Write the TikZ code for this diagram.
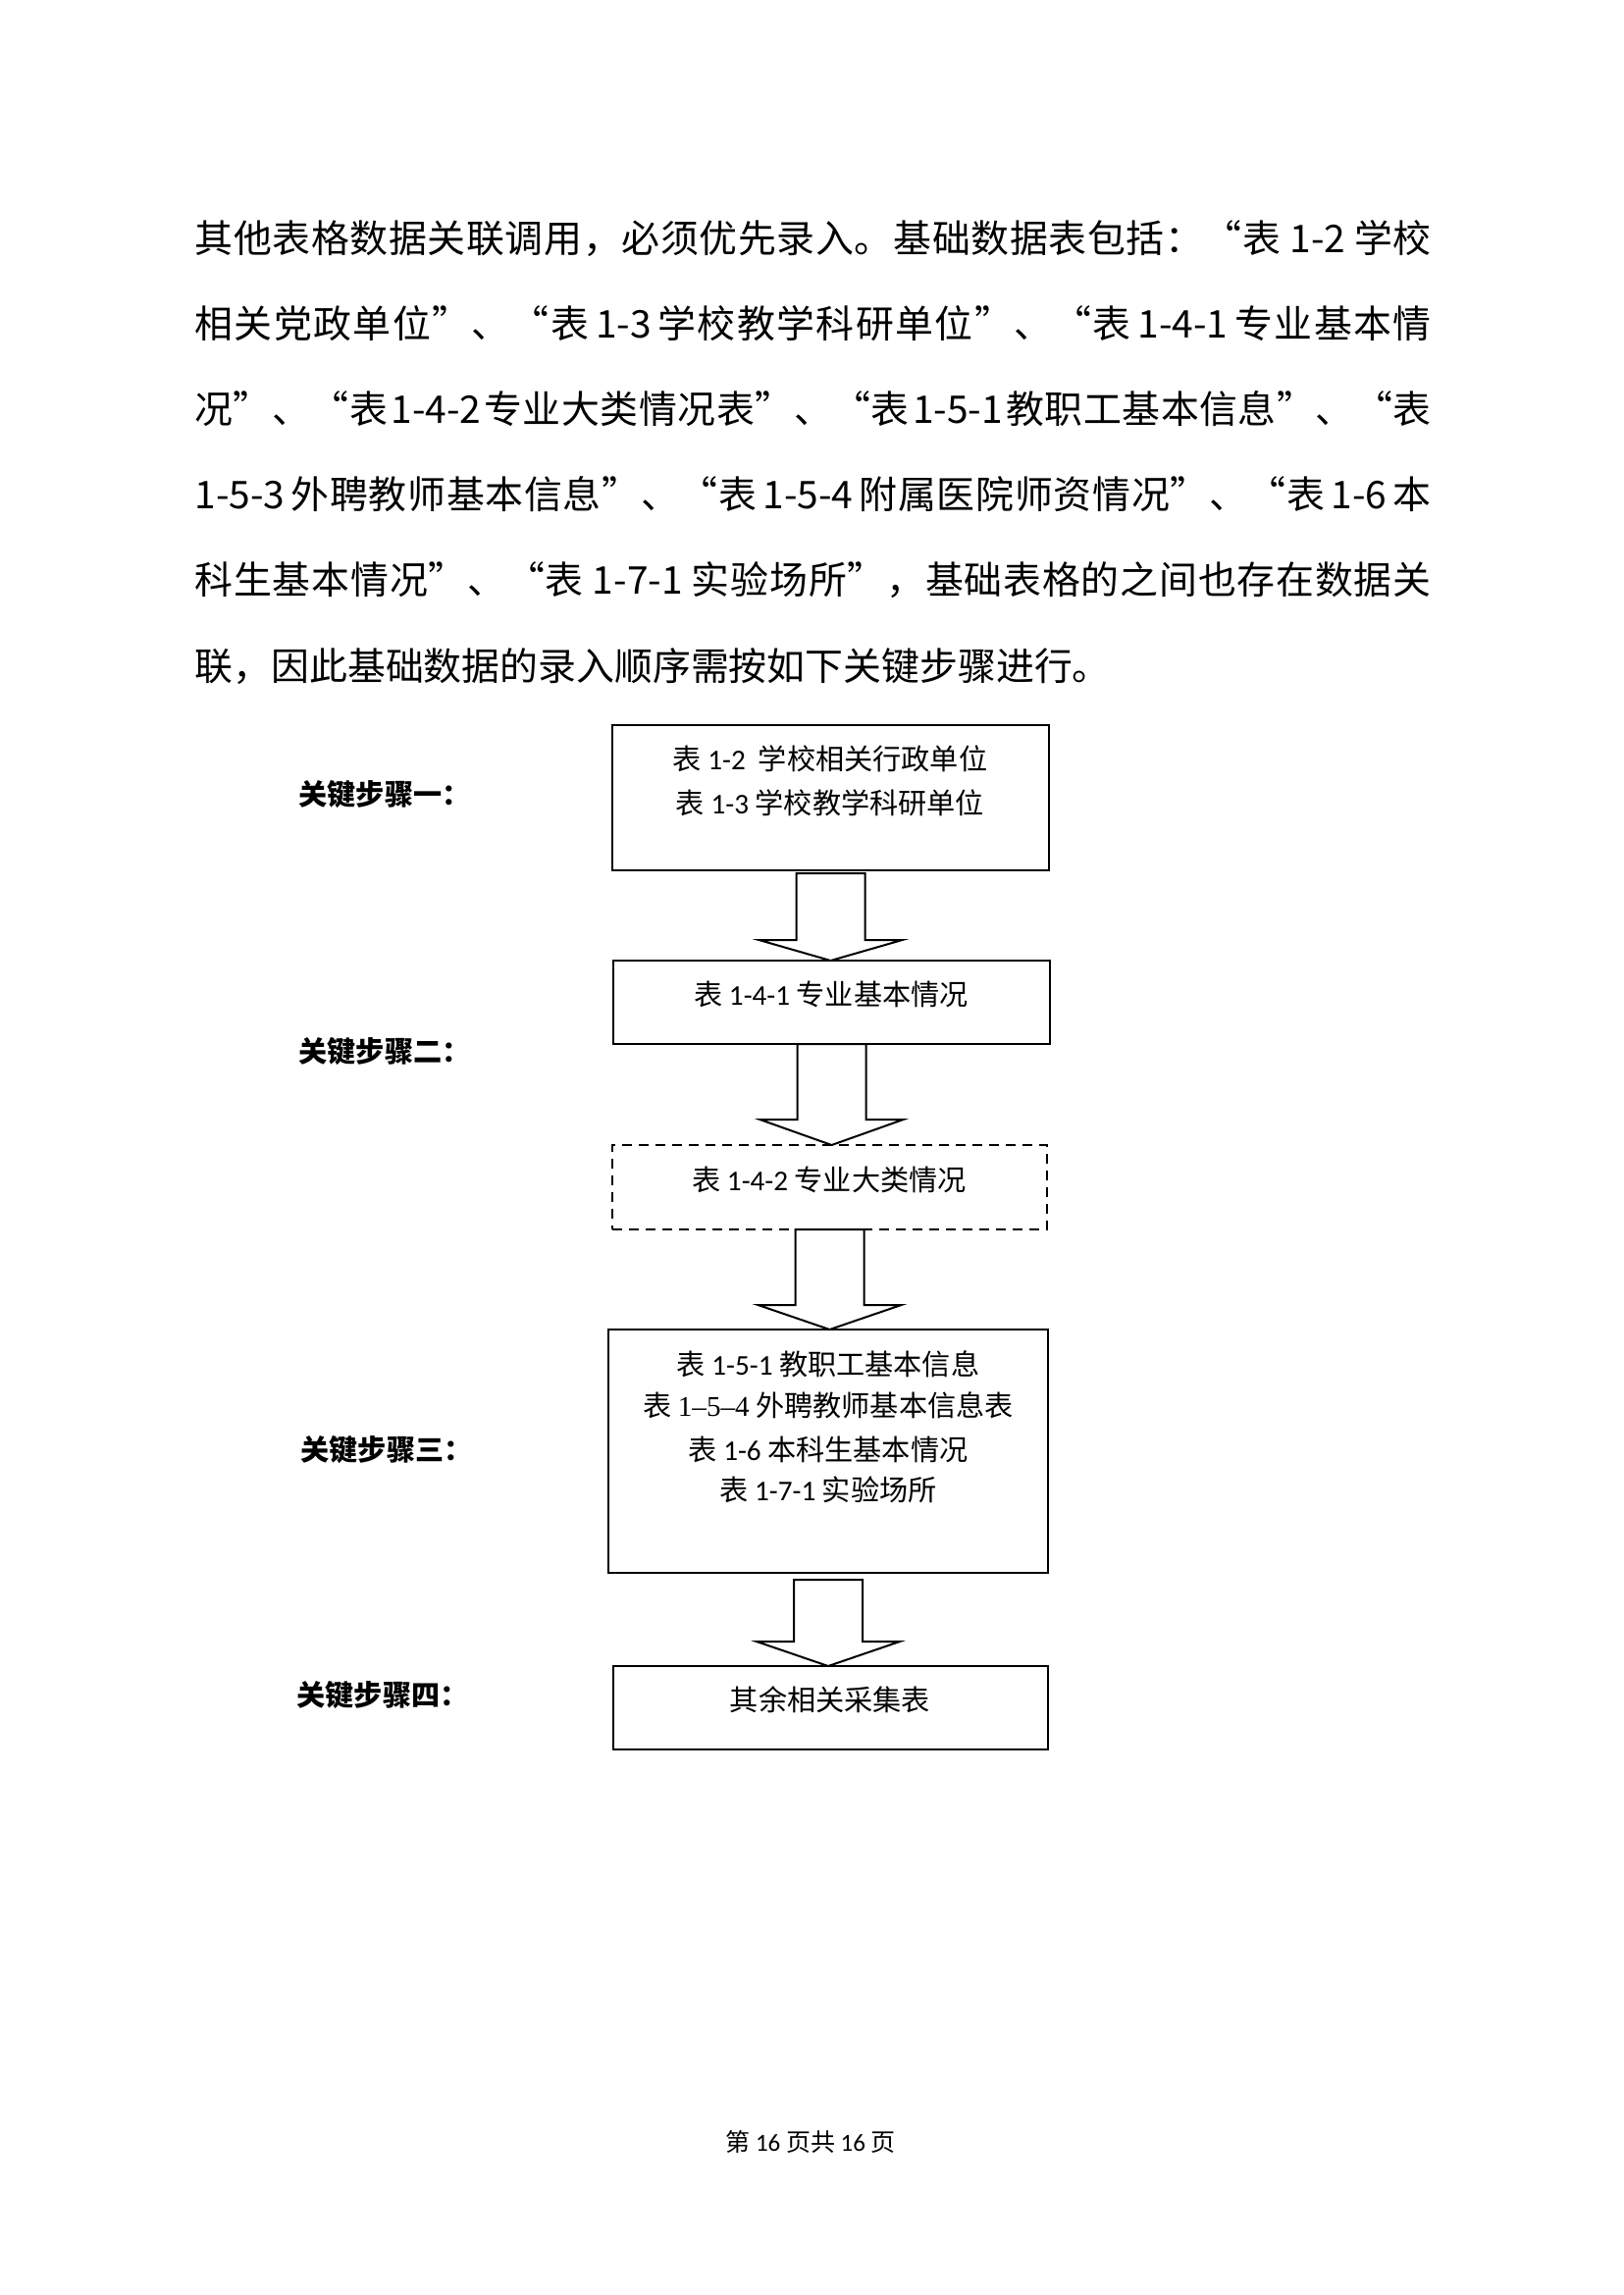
\documentclass[tikz,border=0pt]{standalone}
\usepackage{fontspec}
\setmainfont{Noto Sans CJK SC}
\newfontfamily\latf{Carlito}
\newfontfamily\tmsf{Liberation Serif}
\usetikzlibrary{calc}
\newdimen\px \px=0.36pt
\def\spreadend{\spreadend}
\def\spreadendtest{\spreadend}
\newcommand\spreadline[2]{\makebox[#1][l]{\spreadfirst#2\spreadend}}
\def\spreadfirst#1{#1\spreadrest}
\def\spreadrest#1{\def\spreadtmp{#1}\ifx\spreadtmp\spreadendtest\else\hfill#1\expandafter\spreadrest\fi}
\newcommand\blockarrow[4]{%
  \draw[blk] ($(#1.south)+(-35,#3)$) -- ($(#1.south |- #2.north)+(-35,-#4)$)
    -- ($(#1.south |- #2.north)+(-73,-#4)$) -- (#1.south |- #2.north)
    -- ($(#1.south |- #2.north)+(73,-#4)$) -- ($(#1.south |- #2.north)+(35,-#4)$)
    -- ($(#1.south)+(35,#3)$) -- cycle;}
\tikzset{
  box/.style={draw, line width=2\px, rectangle, anchor=north west, inner sep=0pt, outer sep=0pt},
  txt/.style={inner sep=0pt, font=\fontsize{10.5}{12}\selectfont},
  steplabel/.style={anchor=west, inner sep=0pt, font=\fontsize{10.5}{12}\selectfont\bfseries},
  blk/.style={draw, fill=white, line width=2\px, line join=miter},
  para/.style={anchor=west, inner sep=0pt, font=\fontsize{14}{16}\selectfont},
}
\begin{document}
\begin{tikzpicture}[x=0.36pt, y=-0.36pt]
\useasboundingbox (0,0) rectangle (1654,2339);
% paragraph
\node[para] (p1) at (198,243) {\spreadline{1260\px}{其他表格数据关联调用，必须优先录入。基础数据表包括：“表{\kern3pt 1-2\kern3pt}学校}};
\node[para] (p2) at (198,330) {\spreadline{1260\px}{相关党政单位”、“表{\kern2pt 1-3\kern2pt}学校教学科研单位”、“表{\kern2pt 1-4-1\kern2pt}专业基本情}};
\node[para] (p3) at (198,417) {\spreadline{1260\px}{况”、“表{\kern1pt 1-4-2\kern1pt}专业大类情况表”、“表{\kern1pt 1-5-1\kern1pt}教职工基本信息”、“表}};
\node[para] (p4) at (198,504) {\spreadline{1260\px}{{1-5-3\kern2pt}外聘教师基本信息”、“表{\kern2pt 1-5-4\kern2pt}附属医院师资情况”、“表{\kern2pt 1-6\kern2pt}本}};
\node[para] (p5) at (198,591) {\spreadline{1260\px}{科生基本情况”、“表{\kern3pt 1-7-1\kern3pt}实验场所”，基础表格的之间也存在数据关}};
\node[para] (p6) at (198,679) {联，因此基础数据的录入顺序需按如下关键步骤进行。};
% boxes
\node[box, minimum width=445\px, minimum height=148\px] (b1) at (624,739) {};
\node[box, minimum width=445\px, minimum height=85\px] (b2) at (625,979) {};
\node[box, dash pattern=on 10\px off 7\px, minimum width=443\px, minimum height=86\px] (b3) at (624,1167) {};
\node[box, minimum width=448\px, minimum height=248\px] (b4) at (620,1355) {};
\node[box, minimum width=443\px, minimum height=85\px] (b5) at (625,1698) {};
% arrows
\blockarrow{b1}{b2}{3}{21}
\blockarrow{b2}{b3}{0}{26}
\blockarrow{b3}{b4}{0}{25}
\blockarrow{b4}{b5}{7}{25}
% box texts
\node[txt] (t11) at (846,773) {表 {\latf 1-2}\ \ 学校相关行政单位};
\node[txt] (t12) at (846,818) {表 {\latf 1-3} 学校教学科研单位};
\node[txt] (t2) at (847,1013) {表 {\latf 1-4-1} 专业基本情况};
\node[txt] (t3) at (845,1202) {表 {\latf 1-4-2} 专业大类情况};
\node[txt] (t41) at (844,1390) {表 {\latf 1-5-1} 教职工基本信息};
\node[txt] (t42) at (844,1432) {表 {\tmsf 1–5–4} 外聘教师基本信息表};
\node[txt] (t43) at (844,1477) {表 {\latf 1-6} 本科生基本情况};
\node[txt] (t44) at (844,1518) {表 {\latf 1-7-1} 实验场所};
\node[txt] (t5) at (846,1732) {其余相关采集表};
% step labels
\node[steplabel] (s1) at (304,810) {关键步骤一：};
\node[steplabel] (s2) at (304,1072) {关键步骤二：};
\node[steplabel] (s3) at (306,1478) {关键步骤三：};
\node[steplabel] (s4) at (302,1728) {关键步骤四：};
% footer
\node[inner sep=0pt, font=\fontsize{9}{11}\selectfont] (ft) at (826,2183) {第 {\latf 16} 页共 {\latf 16} 页};
\end{tikzpicture}
\end{document}
